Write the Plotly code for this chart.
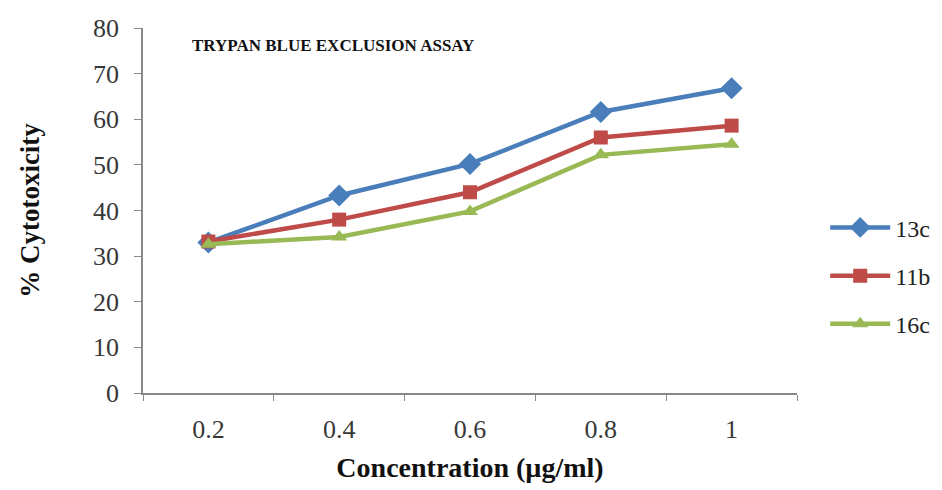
import plotly.graph_objects as go

concentrations = ["0.2", "0.4", "0.6", "0.8", "1"]
series_13c = [33.0, 43.3, 50.2, 61.6, 66.8]
series_11b = [33.2, 38.0, 44.0, 56.0, 58.6]
series_16c = [32.6, 34.2, 39.8, 52.2, 54.5]
y_ticks = [0, 10, 20, 30, 40, 50, 60, 70, 80]

serif = "Liberation Serif, Times New Roman, serif"

fig = go.Figure()
specs = [
    ("13c", series_13c, "#4A7EBB", "diamond", 17),
    ("11b", series_11b, "#BE4B48", "square", 14),
    ("16c", series_16c, "#98B954", "triangle-up", 14),
]
for name, vals, col, sym, sz in specs:
    fig.add_trace(go.Scatter(
        x=concentrations, y=vals, name=name, mode="lines+markers",
        legendgroup=name,
        line=dict(color=col, width=4.5),
        marker=dict(symbol=sym, size=sz, color=col, line=dict(width=0)),
    ))

fig.update_layout(
    width=942, height=490,
    margin=dict(l=143, r=145, t=28, b=97),
    paper_bgcolor="white", plot_bgcolor="white",
    font=dict(family=serif, color="#333333", size=20),
    showlegend=True,
    legend=dict(xref="container", yref="container", x=0.876, y=0.437,
                xanchor="left", yanchor="middle",
                font=dict(family=serif, size=24, color="#222222"),
                tracegroupgap=14, itemwidth=60),
    annotations=[dict(
        text="<b>TRYPAN BLUE EXCLUSION ASSAY</b>", xref="paper", yref="paper",
        x=0.29, y=0.952, xanchor="center", yanchor="middle", showarrow=False,
        font=dict(family=serif, size=17, color="#111111"))],
)
fig.update_xaxes(
    type="category", range=[-0.5, 4.5], tickson="boundaries",
    ticks="outside", ticklen=6, tickcolor="#888888",
    showline=True, linecolor="#888888", linewidth=1.5,
    showgrid=False, zeroline=False, ticklabelstandoff=12,
    tickfont=dict(family=serif, size=26, color="#383838"),
    title=dict(text="<b>Concentration (µg/ml)</b>", standoff=14,
               font=dict(family=serif, size=28, color="#111111")),
)
fig.update_yaxes(
    range=[0, 80], tickvals=y_ticks,
    ticks="outside", ticklen=7, tickcolor="#888888",
    showline=True, linecolor="#888888", linewidth=1.5,
    showgrid=False, zeroline=False, ticklabelstandoff=10,
    tickfont=dict(family=serif, size=26, color="#383838"),
    title=dict(text="<b>% Cytotoxicity</b>", standoff=46,
               font=dict(family=serif, size=27, color="#111111")),
)

fig.write_html("out.html")
